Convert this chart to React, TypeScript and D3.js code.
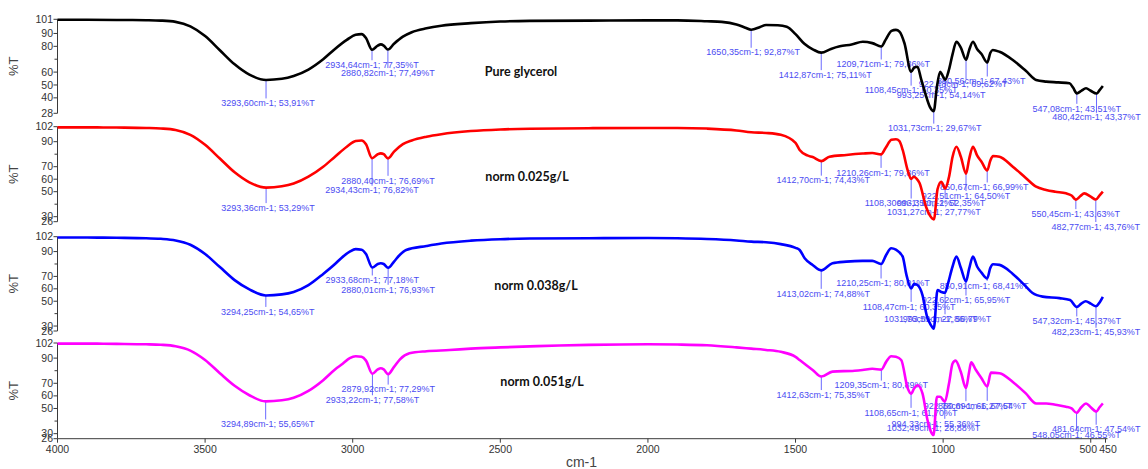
import React from "react";
import * as d3 from "d3";

type Pt = [number, number];

// ---- data -------------------------------------------------------------
const WAVENUMBER_TICKS = [4000, 3500, 3000, 2500, 2000, 1500, 1000, 500, 450];
const SAMPLE_NAMES = ["Pure glycerol", "norm 0.025g/L", "norm 0.038g/L", "norm 0.051g/L"];

// spectra: [wavenumber cm-1, %T]
const glycerolSpectrum: Pt[] = [
  [4000, 100.6], [3900, 100.6], [3800, 100.5], [3700, 100.3], [3650, 100.0], [3600, 99.0],
  [3550, 95.5], [3500, 88.0], [3450, 77.0], [3400, 66.0], [3350, 58.0], [3293.6, 53.91],
  [3240, 54.8], [3200, 57.0], [3150, 62.0], [3100, 70.0], [3060, 78.0], [3020, 85.0],
  [2990, 89.0], [2970, 89.5], [2955, 86.5], [2934.64, 77.35], [2915, 80.6], [2905, 81.5],
  [2895, 80.6], [2880.82, 77.49], [2860, 82.0], [2830, 87.5], [2800, 91.0], [2750, 94.0],
  [2700, 96.0], [2600, 98.0], [2500, 99.3], [2400, 99.8], [2200, 100.0], [2000, 100.2],
  [1900, 100.2], [1800, 99.5], [1750, 99.0], [1700, 97.0], [1670, 94.5], [1650.35, 92.87],
  [1620, 95.0], [1600, 96.6], [1560, 96.4], [1530, 95.3], [1500, 89.5], [1470, 82.0],
  [1440, 77.5], [1412.87, 75.11], [1380, 78.0], [1350, 80.0], [1310, 81.5], [1272, 83.6],
  [1240, 82.5], [1209.71, 79.86], [1195, 85.0], [1175, 92.0], [1160, 92.8], [1148, 91.4],
  [1131, 82.4], [1108.45, 60.35], [1098, 63.5], [1087, 64.2], [1075, 55.0], [1060, 43.0],
  [1045, 33.0], [1031.73, 29.67], [1021, 48.7], [1010, 60.3], [1000, 56.4], [993.25, 54.14],
  [980, 62.0], [968, 74.0], [955, 83.6], [940, 79.0], [922.48, 69.62], [912, 77.0],
  [899, 83.6], [885, 78.0], [870, 74.0], [850.56, 67.43], [840, 75.0], [832, 77.2],
  [809, 75.8], [764, 69.4], [720, 61.0], [685, 53.9], [651, 52.6], [610, 52.0], [572, 51.3],
  [560, 48.0], [547.08, 43.51], [532, 45.5], [516, 47.4], [500, 45.5], [480.42, 43.37],
  [470, 46.0], [459, 49.2],
];

const norm025Spectrum: Pt[] = [
  [4000, 101.5], [3900, 101.5], [3800, 101.3], [3700, 101.0], [3650, 100.6], [3600, 99.4],
  [3550, 95.5], [3500, 87.5], [3450, 76.5], [3400, 65.5], [3350, 57.5], [3293.36, 53.29],
  [3240, 54.3], [3200, 56.5], [3150, 62.0], [3100, 70.0], [3060, 78.0], [3020, 86.0],
  [2990, 90.5], [2970, 91.0], [2955, 88.0], [2934.43, 76.82], [2915, 80.0], [2905, 80.7],
  [2895, 80.0], [2880.4, 76.69], [2860, 82.0], [2830, 88.0], [2800, 91.0], [2750, 94.0],
  [2700, 96.0], [2600, 98.5], [2500, 99.8], [2400, 100.4], [2200, 100.8], [2000, 101.0],
  [1900, 101.0], [1800, 100.5], [1700, 99.0], [1650, 97.5], [1600, 97.0], [1550, 95.5],
  [1500, 89.0], [1486, 83.4], [1460, 79.0], [1442, 77.7], [1412.7, 74.43], [1385, 78.0],
  [1328, 79.4], [1273, 80.5], [1240, 81.0], [1210.26, 79.86], [1195, 85.0], [1175, 91.5],
  [1160, 92.0], [1148, 90.5], [1137, 83.4], [1120, 67.0], [1108.3, 60.12], [1100, 62.0],
  [1090, 60.5], [1080, 57.0], [1058, 38.0], [1045, 31.0], [1031.27, 27.77], [1019, 52.0],
  [1006, 58.0], [1000, 55.5], [993.35, 52.35], [980, 62.0], [968, 78.0], [955, 86.0],
  [940, 78.0], [922.51, 64.5], [912, 76.0], [899, 86.0], [885, 79.0], [870, 74.0],
  [850.67, 66.99], [840, 75.0], [831, 78.6], [809, 78.0], [764, 70.0], [720, 61.0],
  [685, 54.0], [651, 51.4], [620, 50.0], [584, 48.7], [565, 47.0], [550.45, 43.63],
  [535, 46.5], [522, 48.7], [500, 46.0], [482.77, 43.76], [470, 47.0], [459, 50.0],
];

const norm038Spectrum: Pt[] = [
  [4000, 101.3], [3900, 101.3], [3800, 101.1], [3700, 100.8], [3650, 100.3], [3600, 99.0],
  [3550, 95.5], [3500, 88.0], [3450, 77.5], [3400, 67.0], [3350, 59.5], [3294.25, 54.65],
  [3240, 55.5], [3200, 57.5], [3150, 63.0], [3100, 72.0], [3060, 80.0], [3040, 84.5],
  [3010, 90.0], [2990, 92.0], [2970, 91.5], [2955, 88.0], [2933.68, 77.18], [2915, 80.0],
  [2905, 80.6], [2895, 80.0], [2880.01, 76.93], [2860, 82.0], [2840, 87.5], [2819, 91.3],
  [2750, 94.5], [2700, 96.5], [2600, 98.8], [2500, 100.0], [2400, 100.5], [2200, 100.8],
  [2000, 101.0], [1900, 100.8], [1800, 100.2], [1700, 99.0], [1650, 98.0], [1600, 97.5],
  [1550, 96.0], [1500, 93.0], [1486, 91.3], [1469, 84.6], [1442, 79.2], [1413.02, 74.88],
  [1375, 80.6], [1328, 81.9], [1273, 82.5], [1240, 82.5], [1210.25, 80.01], [1193, 87.3],
  [1176, 92.7], [1160, 91.5], [1137, 85.9], [1125, 72.0], [1108.47, 60.35], [1098, 64.0],
  [1087, 63.0], [1070, 55.0], [1055, 38.0], [1042, 31.0], [1031.76, 27.86], [1019, 59.0],
  [1006, 57.5], [993.59, 56.79], [985, 63.0], [968, 78.0], [955, 86.0], [940, 77.0],
  [922.62, 65.95], [912, 76.0], [899, 86.0], [885, 78.0], [870, 73.0], [850.91, 68.41],
  [840, 77.0], [831, 79.8], [809, 79.3], [764, 72.0], [720, 62.0], [697, 56.6], [663, 53.7],
  [606, 52.5], [570, 51.0], [547.32, 45.37], [532, 48.0], [517, 50.0], [500, 48.0],
  [482.23, 45.93], [470, 49.0], [459, 53.5],
];

const norm051Spectrum: Pt[] = [
  [4000, 101.5], [3900, 101.5], [3800, 101.3], [3700, 101.0], [3650, 100.6], [3600, 99.4],
  [3550, 96.0], [3500, 88.5], [3450, 78.0], [3400, 68.0], [3350, 60.5], [3294.89, 55.65],
  [3240, 56.5], [3200, 58.5], [3150, 64.0], [3100, 72.5], [3060, 81.0], [3034, 85.5],
  [3010, 90.0], [2990, 91.5], [2970, 91.0], [2955, 88.0], [2933.22, 77.58], [2915, 81.0],
  [2905, 81.9], [2895, 81.0], [2879.92, 77.29], [2860, 83.0], [2840, 89.0], [2808, 93.8],
  [2750, 95.5], [2672, 96.4], [2600, 97.5], [2500, 98.5], [2400, 99.3], [2300, 100.0],
  [2200, 100.5], [2000, 101.0], [1900, 100.8], [1800, 100.2], [1700, 98.5], [1650, 97.5],
  [1600, 96.5], [1550, 95.0], [1500, 91.0], [1486, 88.5], [1442, 80.6], [1412.63, 75.35],
  [1375, 79.3], [1300, 80.0], [1273, 80.6], [1240, 81.5], [1209.35, 80.89], [1193, 87.0],
  [1176, 91.5], [1160, 91.0], [1142, 88.5], [1120, 66.0], [1108.65, 61.7], [1098, 66.0],
  [1087, 68.4], [1070, 62.0], [1053, 40.8], [1042, 32.0], [1032.49, 28.88], [1021, 59.3],
  [1010, 59.3], [994.33, 55.36], [980, 70.0], [968, 85.7], [958, 88.0], [940, 79.0],
  [922.78, 66.27], [912, 79.0], [905, 86.6], [890, 81.0], [870, 74.0], [850.69, 67.54],
  [838, 78.5], [809, 78.0], [764, 71.0], [720, 62.0], [685, 54.0], [651, 54.0], [620, 53.0],
  [584, 51.4], [565, 50.0], [548.05, 46.55], [532, 51.0], [516, 54.0], [500, 51.0],
  [481.64, 47.54], [470, 51.0], [459, 54.0],
];

// picked peaks: [wavenumber cm-1, %T]
const glycerolPeaks: Pt[] = [
  [3293.6, 53.91], [2934.64, 77.35], [2880.82, 77.49], [1650.35, 92.87], [1412.87, 75.11],
  [1209.71, 79.86], [1108.45, 60.35], [1031.73, 29.67], [993.25, 54.14], [922.48, 69.62],
  [850.56, 67.43], [547.08, 43.51], [480.42, 43.37],
];
const norm025Peaks: Pt[] = [
  [3293.36, 53.29], [2934.43, 76.82], [2880.4, 76.69], [1412.7, 74.43], [1210.26, 79.86],
  [1108.3, 60.12], [1031.27, 27.77], [993.35, 52.35], [922.51, 64.5], [850.67, 66.99],
  [550.45, 43.63], [482.77, 43.76],
];
const norm038Peaks: Pt[] = [
  [3294.25, 54.65], [2933.68, 77.18], [2880.01, 76.93], [1413.02, 74.88], [1210.25, 80.01],
  [1108.47, 60.35], [1031.76, 27.86], [993.59, 56.79], [922.62, 65.95], [850.91, 68.41],
  [547.32, 45.37], [482.23, 45.93],
];
const norm051Peaks: Pt[] = [
  [3294.89, 55.65], [2933.22, 77.58], [2879.92, 77.29], [1412.63, 75.35], [1209.35, 80.89],
  [1108.65, 61.7], [1032.49, 28.88], [994.33, 55.36], [922.78, 66.27], [850.69, 67.54],
  [548.05, 46.55], [481.64, 47.54],
];

// %T axes
const glycerolDomain: Pt = [28, 101];
const glycerolTicks = [101, 90, 80, 60, 50, 40, 28];
const glycerolMinorTicks = [70];
const normDomain: Pt = [26, 102];
const normTicks = [102, 90, 70, 60, 50, 30, 26];
const normMinorTicks = [80, 40];

// ---- layout -------------------------------------------------------------
const W = 1148;
const H = 469;
const X_LEFT = 57.5;
const X_RIGHT = 1105.5;

// peak label placement: [dx, dy] of the label centre relative to the peak point
const glycerolLabelOffsets: Pt[] = [
  [2, 23], [0, 15], [0, 23], [2, 22.5], [4, 22], [2, 17.5], [0, 18.5], [1, 17],
  [-4, 15], [-3, 24], [-6, 18.5], [0, 15], [0, 23.5],
];
const norm025LabelOffsets: Pt[] = [
  [2, 20], [0, 32], [0, 22], [2, 19], [2, 18], [0, 24], [0, -8], [-4, 14], [0, 22],
  [-3, 16.5], [0, 14], [0, 27],
];
const norm038LabelOffsets: Pt[] = [
  [2, 16], [0, 12.5], [0, 21.5], [2, 23], [2, 19], [-2, 18], [-3, -10], [2, 26],
  [0, 18.6], [-3, 7], [0, 14], [0, 26],
];
const norm051LabelOffsets: Pt[] = [
  [2, 22.6], [0, 26], [0, 15], [2, 18], [0, 15.5], [0, 18.6], [0, -7], [-9, 21.6],
  [2, 17.7], [-5, 19], [0, 22], [0, 17.7],
];
// small horizontal nudges for the crowded 500 / 450 tick labels
const xTickNudge: Record<number, number> = { 500: -2.5, 450: 2.5 };

const panels = [
  {
    name: SAMPLE_NAMES[0], color: "#000000", spectrum: glycerolSpectrum, peaks: glycerolPeaks,
    offsets: glycerolLabelOffsets, domain: glycerolDomain, ticks: glycerolTicks,
    minor: glycerolMinorTicks, top: 19.3, bottom: 113.3, nameX: 521, nameY: 71,
  },
  {
    name: SAMPLE_NAMES[1], color: "#ff0000", spectrum: norm025Spectrum, peaks: norm025Peaks,
    offsets: norm025LabelOffsets, domain: normDomain, ticks: normTicks,
    minor: normMinorTicks, top: 126.7, bottom: 221.7, nameX: 527, nameY: 176.5,
  },
  {
    name: SAMPLE_NAMES[2], color: "#0000ff", spectrum: norm038Spectrum, peaks: norm038Peaks,
    offsets: norm038LabelOffsets, domain: normDomain, ticks: normTicks,
    minor: normMinorTicks, top: 236.7, bottom: 331, nameX: 536, nameY: 285,
  },
  {
    name: SAMPLE_NAMES[3], color: "#ff00ff", spectrum: norm051Spectrum, peaks: norm051Peaks,
    offsets: norm051LabelOffsets, domain: normDomain, ticks: normTicks,
    minor: normMinorTicks, top: 343, bottom: 438.7, nameX: 542, nameY: 381,
  },
];

const fmt = (v: number) => v.toFixed(2).replace(".", ",");

const x = d3.scaleLinear().domain([4000, 450]).range([X_LEFT, X_RIGHT]);

const AXIS_COLOR = "#3a3a3a";
const PEAK_COLOR = "#4b4bf2";
const LABEL_FONT = "'Liberation Sans', Arial, sans-serif";

function Panel({ p }: { p: (typeof panels)[number] }) {
  const y = d3.scaleLinear().domain(p.domain).range([p.bottom, p.top]);
  const line = d3
    .line<Pt>()
    .x((d) => x(d[0]))
    .y((d) => y(d[1]))
    .curve(d3.curveMonotoneX);
  const mid = (p.top + p.bottom) / 2;
  return (
    <g>
      {/* %T axis */}
      <line x1={X_LEFT} x2={X_LEFT} y1={p.top} y2={p.bottom} stroke={AXIS_COLOR} strokeWidth={1} />
      {p.ticks.map((t) => (
        <g key={"t" + t}>
          <line x1={X_LEFT - 4} x2={X_LEFT} y1={y(t)} y2={y(t)} stroke={AXIS_COLOR} />
          <text
            x={X_LEFT - 4.5}
            y={y(t) + 3.6}
            textAnchor="end"
            fontFamily={LABEL_FONT}
            fontSize={10.5}
            fill="#333"
          >
            {t}
          </text>
        </g>
      ))}
      {p.minor.map((t) => (
        <line key={"m" + t} x1={X_LEFT - 3} x2={X_LEFT} y1={y(t)} y2={y(t)} stroke={AXIS_COLOR} />
      ))}
      <text
        transform={`translate(18,${mid}) rotate(-90)`}
        textAnchor="middle"
        fontFamily={LABEL_FONT}
        fontSize={13}
        fill="#444"
      >
        %T
      </text>

      {/* peak markers */}
      {p.peaks.map((pk, i) => {
        const px = x(pk[0]);
        const py = y(pk[1]);
        const [dx, dy] = p.offsets[i];
        const cy = py + dy;
        return (
          <g key={"p" + i}>
            {dy > 0 && (
              <line x1={px} x2={px} y1={py} y2={cy - 4.5} stroke="#6a6aff" strokeWidth={1} />
            )}
            <text
              x={px + dx}
              y={cy + 3.2}
              textAnchor="middle"
              fontFamily={LABEL_FONT}
              fontSize={9}
              fill={PEAK_COLOR}
            >
              {`${fmt(pk[0])}cm-1; ${fmt(pk[1])}%T`}
            </text>
          </g>
        );
      })}

      {/* spectrum */}
      <path d={line(p.spectrum) ?? ""} fill="none" stroke={p.color} strokeWidth={2.6} strokeLinejoin="round" />

      {/* sample name */}
      <text
        x={p.nameX}
        y={p.nameY + 4.5}
        textAnchor="middle"
        fontFamily="Lato, 'Open Sans', sans-serif"
        fontWeight={700}
        fontSize={12.5}
        fill="#111"
      >
        {p.name}
      </text>
    </g>
  );
}

export default function App() {
  const axisY = panels[3].bottom;
  return (
    <svg
      width={W}
      height={H}
      viewBox={`0 0 ${W} ${H}`}
      style={{ position: "absolute", left: 0, top: 0, background: "#fff" }}
    >
      <rect x={0} y={0} width={W} height={H} fill="#fff" />
      {panels.map((p, i) => (
        <Panel key={i} p={p} />
      ))}

      {/* wavenumber axis */}
      <line x1={X_LEFT} x2={X_RIGHT + 2} y1={axisY} y2={axisY} stroke={AXIS_COLOR} strokeWidth={1} />
      {WAVENUMBER_TICKS.map((t) => (
        <g key={"x" + t}>
          <line x1={x(t)} x2={x(t)} y1={axisY} y2={axisY + 4} stroke={AXIS_COLOR} />
          <text
            x={x(t) + (xTickNudge[t] ?? 0)}
            y={axisY + 14.5}
            textAnchor="middle"
            fontFamily={LABEL_FONT}
            fontSize={10.5}
            fill="#333"
          >
            {t}
          </text>
        </g>
      ))}
      <text
        x={(X_LEFT + X_RIGHT) / 2}
        y={H - 2}
        textAnchor="middle"
        fontFamily={LABEL_FONT}
        fontSize={14}
        fill="#444"
      >
        cm-1
      </text>
    </svg>
  );
}
